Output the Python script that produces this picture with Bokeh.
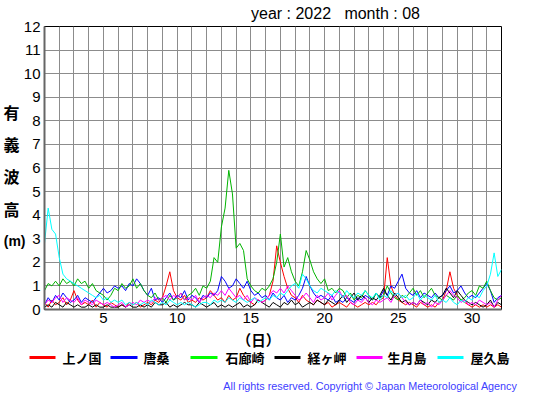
import numpy as np
from bokeh.plotting import figure
from bokeh.layouts import column
from bokeh.models import Range1d, FixedTicker, LinearAxis
from bokeh.embed import file_html
from bokeh.resources import INLINE
from bokeh.core.properties import value

# time axis: day of month, 6-hourly samples (1.00 .. 32.00)
days = (np.arange(125) / 4 + 1).tolist()

station_names = ["上ノ国", "唐桑", "石廊崎", "経ヶ岬", "生月島", "屋久島"]
legend_colors = ["#ff0000", "#0000ff", "#00ff00", "#000000", "#ff00ff", "#00ffff"]
line_colors = ["#ff0000", "#0000ff", "#00b400", "#000000", "#ff00ff", "#00ffff"]

x_ticks = [5, 10, 15, 20, 25, 30]
y_ticks = list(range(0, 13))

kaminokuni = [0.3, 0.1, 0.4, 0.2, 0.3, 0.5, 0.2, 0.4, 0.8, 0.4, 0.2, 0.3, 0.2, 0.4, 0.1, 0.3,
              0.2, 0.1, 0.3, 0.2, 0.1, 0.2, 0.1, 0.3, 0.2, 0.3, 0.1, 0.2, 0.3, 0.2, 0.4, 0.3,
              0.5, 1.0, 1.6, 0.8, 0.5, 0.4, 0.6, 0.3, 0.4, 0.3, 0.5, 0.4, 0.5, 0.8, 0.6, 0.4,
              0.5, 0.3, 0.6, 0.4, 0.5, 0.9, 0.6, 0.4, 0.3, 0.2, 0.4, 0.3, 0.4, 0.6, 1.2, 2.7,
              2.0, 1.4, 0.9, 0.6, 0.5, 0.3, 0.6, 0.4, 0.3, 0.2, 0.4, 0.3, 0.2, 0.3, 0.1, 0.2,
              0.3, 0.2, 0.1, 0.3, 0.2, 0.1, 0.2, 0.3, 0.2, 0.3, 0.2, 0.4, 0.5, 2.2, 1.0, 0.6,
              0.4, 0.3, 0.2, 0.3, 0.2, 0.1, 0.3, 0.2, 0.1, 0.2, 0.1, 0.3, 0.4, 0.8, 1.6, 0.9,
              0.6, 0.4, 0.3, 0.2, 0.1, 0.2, 0.1, 0.2, 0.1, 0.2, 0.1, 0.2, 0.1]

karakuwa = [0.2, 0.5, 0.3, 0.6, 0.4, 0.7, 0.5, 0.3, 0.4, 0.6, 0.3, 0.5, 0.4, 0.3, 0.5, 0.7,
            0.9, 0.7, 0.8, 1.0, 0.9, 1.0, 0.8, 1.1, 1.0, 1.3, 1.1, 0.8, 0.6, 0.9, 0.4, 0.5,
            0.3, 0.5, 0.7, 0.4, 0.6, 0.5, 0.8, 0.4, 0.6, 0.5, 0.3, 0.6, 0.5, 0.7, 0.6, 0.8,
            1.4, 1.2, 0.9, 1.0, 1.3, 1.1, 0.9, 1.2, 0.8, 0.6, 0.7, 0.5, 0.6, 0.4, 0.7, 0.5,
            0.4, 0.6, 0.3, 0.5, 0.4, 0.6, 0.9, 1.4, 1.0, 0.7, 0.5, 0.6, 0.5, 0.4, 0.6, 0.3,
            0.4, 0.3, 0.5, 0.4, 0.3, 0.5, 0.4, 0.6, 0.5, 0.4, 0.7, 0.5, 0.8, 0.6, 1.0, 0.9,
            1.2, 1.5, 0.9, 0.7, 0.6, 0.8, 0.5, 0.7, 0.6, 0.5, 0.7, 0.5, 0.6, 0.8, 1.0, 0.7,
            0.8, 1.0, 0.7, 0.5, 0.6, 0.5, 0.7, 0.9, 1.1, 0.8, 0.3, 0.5, 0.6]

irozaki = [0.8, 1.1, 1.0, 1.2, 1.0, 1.3, 1.1, 1.2, 1.0, 1.3, 1.1, 1.2, 0.9, 1.1, 0.8, 0.7,
           0.6, 0.4, 0.6, 0.9, 0.8, 1.1, 0.9, 1.0, 1.3, 0.9, 1.1, 0.8, 0.6, 0.5, 0.7, 0.4,
           0.5, 0.3, 0.6, 0.4, 0.5, 0.7, 0.4, 0.6, 0.7, 0.9, 0.6, 1.0, 0.9, 1.2, 2.2, 2.0,
           3.5, 4.3, 5.9, 4.9, 2.6, 2.8, 2.5, 1.3, 1.0, 0.8, 0.7, 0.9, 0.8, 1.0, 1.3, 2.0,
           3.2, 1.8, 2.2, 1.6, 1.2, 1.0, 1.6, 2.5, 2.1, 1.6, 1.3, 1.1, 1.3, 0.8, 0.9, 0.7,
           0.9, 0.8, 0.5, 0.7, 0.4, 0.6, 0.5, 0.8, 0.6, 0.4, 0.7, 0.5, 0.6, 1.0, 0.7, 0.5,
           0.4, 0.6, 0.5, 0.7, 0.9, 0.6, 0.8, 0.5, 0.7, 0.9, 0.6, 0.5, 0.4, 0.6, 0.5, 0.4,
           0.6, 0.4, 0.5, 0.7, 0.8, 0.6, 1.0, 0.9, 1.2, 0.8, 0.5, 0.4, 0.5]

kyogamisaki = [0.1, 0.2, 0.1, 0.3, 0.2, 0.1, 0.3, 0.2, 0.1, 0.2, 0.1, 0.1, 0.2, 0.1, 0.2, 0.1,
               0.1, 0.2, 0.1, 0.1, 0.1, 0.2, 0.1, 0.2, 0.1, 0.1, 0.2, 0.1, 0.2, 0.1, 0.3, 0.2,
               0.2, 0.3, 0.1, 0.2, 0.1, 0.2, 0.3, 0.2, 0.2, 0.1, 0.3, 0.2, 0.1, 0.2, 0.3, 0.1,
               0.2, 0.1, 0.2, 0.1, 0.2, 0.3, 0.1, 0.2, 0.1, 0.2, 0.4, 0.3, 0.2, 0.1, 0.3, 0.2,
               0.1, 0.3, 0.2, 0.4, 0.2, 0.3, 0.1, 0.2, 0.3, 0.2, 0.4, 0.3, 0.2, 0.4, 0.3, 0.2,
               0.4, 0.6, 0.3, 0.5, 0.7, 0.4, 0.6, 0.5, 0.3, 0.5, 0.4, 0.6, 0.9, 0.6, 0.4, 0.7,
               0.5, 0.3, 0.4, 0.2, 0.3, 0.2, 0.4, 0.3, 0.2, 0.4, 0.3, 0.5, 0.6, 0.9, 0.7, 0.5,
               0.8, 0.6, 0.4, 0.3, 0.2, 0.3, 0.2, 0.1, 0.2, 0.4, 0.1, 0.3, 0.2]

ikitsukishima = [0.2, 0.4, 0.3, 0.5, 0.6, 0.3, 0.5, 0.4, 0.3, 0.5, 0.2, 0.4, 0.3, 0.2, 0.4, 0.3,
                 0.2, 0.3, 0.2, 0.1, 0.2, 0.3, 0.1, 0.2, 0.3, 0.2, 0.4, 0.3, 0.4, 0.3, 0.5, 0.4,
                 0.5, 0.6, 0.4, 0.6, 0.5, 0.7, 0.4, 0.5, 0.4, 0.6, 0.3, 0.5, 0.6, 0.5, 0.7, 0.6,
                 0.8, 0.6, 0.9, 0.7, 0.5, 0.6, 0.4, 0.6, 0.3, 0.5, 0.4, 0.3, 0.4, 0.6, 0.8, 0.7,
                 0.9, 0.7, 1.0, 0.8, 0.6, 0.4, 0.5, 0.7, 0.5, 0.3, 0.6, 0.4, 0.5, 0.7, 0.4, 0.6,
                 0.8, 0.5, 0.6, 0.3, 0.2, 0.4, 0.3, 0.5, 0.3, 0.2, 0.4, 0.3, 0.4, 0.5, 0.3, 0.6,
                 0.7, 0.5, 0.3, 0.2, 0.3, 0.2, 0.4, 0.2, 0.3, 0.1, 0.3, 0.2, 0.4, 0.6, 0.8, 0.6,
                 0.5, 0.3, 0.4, 0.2, 0.3, 0.2, 0.4, 0.3, 0.2, 0.3, 0.1, 0.4, 0.6]

yakushima = [2.8, 4.3, 3.4, 3.2, 2.2, 1.5, 1.3, 1.2, 1.1, 1.0, 0.9, 0.8, 0.7, 0.6, 0.5, 0.6,
             0.4, 0.5, 0.3, 0.4, 0.3, 0.4, 0.2, 0.3, 0.2, 0.3, 0.2, 0.3, 0.2, 0.4, 0.3, 0.2,
             0.3, 0.2, 0.4, 0.3, 0.2, 0.3, 0.2, 0.3, 0.2, 0.1, 0.2, 0.3, 0.3, 0.2, 0.4, 0.3,
             0.4, 0.3, 0.5, 0.4, 0.3, 0.5, 0.4, 0.3, 0.4, 0.5, 0.3, 0.4, 0.5, 0.4, 0.6, 0.5,
             0.7, 0.6, 0.8, 1.0, 1.1, 0.9, 1.5, 1.3, 1.0, 0.8, 0.7, 0.9, 0.8, 0.7, 0.6, 0.8,
             0.7, 0.5, 0.8, 0.6, 0.5, 0.7, 0.6, 0.8, 0.6, 0.5, 0.7, 0.4, 0.6, 0.5, 0.8, 0.6,
             0.7, 0.5, 0.6, 0.4, 0.5, 0.7, 0.4, 0.6, 0.5, 0.4, 0.6, 0.3, 0.4, 0.3, 0.5, 0.3,
             0.2, 0.4, 0.3, 0.5, 0.4, 0.6, 0.5, 0.8, 1.0, 1.5, 2.4, 1.4, 1.7]

series = [kaminokuni, karakuwa, irozaki, kyogamisaki, ikitsukishima, yakushima]

title_text = "year : 2022\u00a0\u00a0\u00a0month : 08"
title_pos = 20.74
y_label_chars = ["有", "義", "波", "高"]
y_label_pos = [8.39, 7.03, 5.64, 4.28]
y_unit_text = "(m)"
y_unit_pos = 2.92
x_label_text = "（日）"
copyright_text = "All rights reserved. Copyright © Japan Meteorological Agency"

LAT = "Liberation Sans"
CJK = "Noto Sans CJK JP"

p = figure(width=554, height=328, x_range=Range1d(1, 32), y_range=Range1d(0, 12),
           output_backend="svg", toolbar_location=None,
           min_border_left=44, min_border_right=53, min_border_top=26, min_border_bottom=19)
p.background_fill_color = "white"
p.border_fill_color = "white"
p.outline_line_color = "black"
p.outline_line_width = 1

p.xaxis.ticker = FixedTicker(ticks=x_ticks)
p.yaxis.ticker = FixedTicker(ticks=y_ticks)
p.xgrid.ticker = FixedTicker(ticks=list(range(2, 32)))
p.ygrid.ticker = FixedTicker(ticks=list(range(1, 12)))
for g in (p.xgrid, p.ygrid):
    g.grid_line_color = "#8c8c8c"
    g.grid_line_width = 1

for ax in (p.xaxis, p.yaxis):
    ax.major_tick_out = 0
    ax.major_tick_in = 0
    ax.minor_tick_out = 0
    ax.minor_tick_in = 0
    ax.axis_line_color = "#666666"
    ax.axis_line_width = 2
    ax.major_label_text_font = LAT
    ax.major_label_text_font_size = "15px"
    ax.major_label_text_color = "black"
p.yaxis.major_label_standoff = 4
p.xaxis.major_label_standoff = 3


def label_axis(ticks, texts, font, size, standoff, style="bold"):
    ax = LinearAxis(ticker=FixedTicker(ticks=ticks),
                    major_label_overrides={v: t for v, t in zip(ticks, texts)})
    ax.axis_line_color = None
    ax.major_tick_out = 0
    ax.major_tick_in = 0
    ax.minor_tick_out = 0
    ax.minor_tick_in = 0
    ax.major_label_standoff = standoff
    ax.major_label_text_font = font
    ax.major_label_text_font_size = size
    ax.major_label_text_font_style = style
    ax.major_label_text_color = "black"
    return ax


# chart heading above the frame
p.add_layout(label_axis([title_pos], [title_text], LAT, "16px", 5, "normal"), "above")

# vertical stacked y-axis title (有義波高 / (m)) as outer tick-less axes
p.add_layout(label_axis(y_label_pos, y_label_chars, CJK, "16px", 1), "left")
p.add_layout(label_axis([y_unit_pos], [y_unit_text], LAT, "14px", -25), "left")

for vals, col in zip(series, line_colors):
    p.line(days, vals, line_color=col, line_width=1)

# x-axis title, legend strip and copyright (page coordinates below the chart)
lg = figure(width=554, height=66, x_range=Range1d(0, 554), y_range=Range1d(66, 0),
            output_backend="svg", toolbar_location=None, x_axis_type=None, y_axis_type=None,
            min_border_left=0, min_border_right=0, min_border_top=0, min_border_bottom=0)
lg.grid.visible = False
lg.outline_line_color = None
lg.background_fill_color = "white"
lg.border_fill_color = "white"

for fig in (p, lg):
    try:
        fig.frame_align = False
    except Exception:
        pass

lg.text(x=[258], y=[11], text=[x_label_text], text_font=value(CJK), text_font_size="14.5px",
        text_font_style="bold", text_baseline="middle", text_align="center", text_color="black")

seg_x0 = [29, 110, 190, 274, 356, 437]
seg_x1 = [55, 137, 217, 300, 382, 463]
txt_x = [62, 143, 225, 307, 387, 470]
lg.segment(x0=seg_x0, y0=[29] * 6, x1=seg_x1, y1=[29] * 6, line_color=legend_colors, line_width=3)
lg.text(x=txt_x, y=[29] * 6, text=station_names, text_font=value(CJK), text_font_size="13px",
        text_font_style="bold", text_baseline="middle", text_align="left", text_color="black")
lg.text(x=[517], y=[57], text=[copyright_text], text_font=value(LAT), text_font_size="10.8px",
        text_baseline="middle", text_align="right", text_color="#4040ff")

layout = column(p, lg, spacing=0)
open("out.html", "w").write(file_html(layout, INLINE))
